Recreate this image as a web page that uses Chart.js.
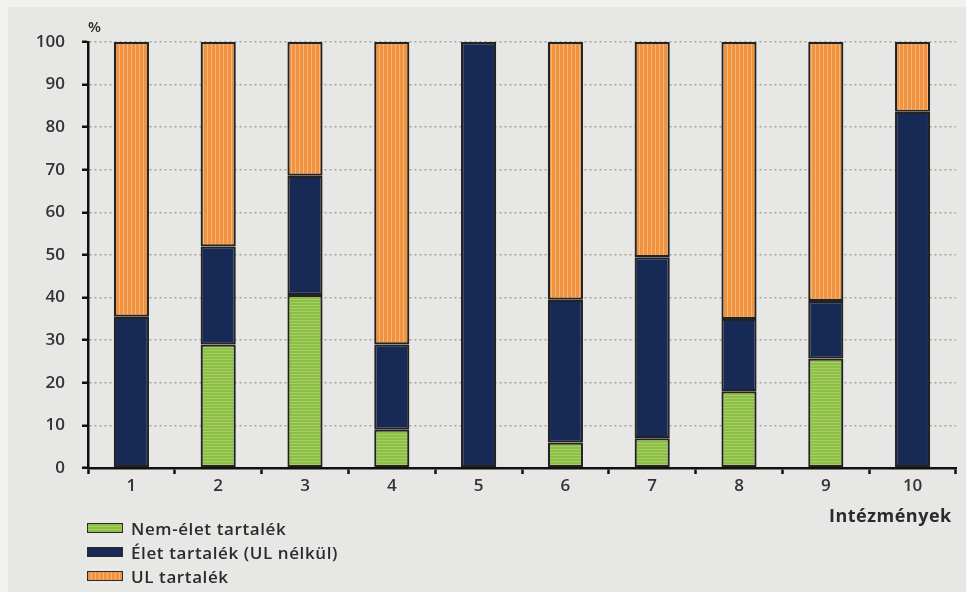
<!DOCTYPE html>
<html>
<head>
<meta charset="utf-8">
<script src="https://cdn.jsdelivr.net/npm/chart.js@4/dist/chart.umd.min.js"></script>
<style>
  html, body { margin: 0; padding: 0; background: #f1f1f0; }
  #wrap { position: relative; width: 966px; height: 592px; overflow: hidden; }
  #panel { position: absolute; left: 8px; top: 7px; right: 0; bottom: 0; background: #e7e7e5; }
  canvas { position: absolute; left: 0; top: 0; }
  .lbl { position: absolute; font-family: "Open Sans", "DejaVu Sans", sans-serif; color: #2b2b2b; white-space: nowrap; }
  #pct { left: 88px; top: 16px; font-size: 15px; font-weight: 600; }
  #xtitle { left: 829px; top: 503px; font-size: 18px; font-weight: bold; letter-spacing: 0.5px; }
  #legend { left: 87px; top: 516px; }
  .row { display: flex; align-items: center; height: 24px; font-size: 17px; font-weight: 600; letter-spacing: 0.6px; }
  .sw { width: 34px; height: 8px; border: 1.5px solid #2a2a2a; margin-right: 8px; }
  .sw.g { background: repeating-linear-gradient(0deg, #8dbf45 0 2px, #a6cf6a 2px 3px); }
  .sw.d { background: #172a55; }
  .sw.o { background: repeating-linear-gradient(90deg, #f0923e 0 3px, #f7b57a 3px 4px); }
</style>
</head>
<body>
<div id="wrap">
  <div id="panel"></div>
  <canvas id="c" width="966" height="592"></canvas>
  <div class="lbl" id="pct">%</div>
  <div class="lbl" id="xtitle">Intézmények</div>
  <div class="lbl" id="legend">
    <div class="row"><div class="sw g"></div>Nem-élet tartalék</div>
    <div class="row"><div class="sw d"></div>Élet tartalék (UL nélkül)</div>
    <div class="row"><div class="sw o"></div>UL tartalék</div>
  </div>
</div>
<script>
// Institutions 1..10
const institutions = ['1', '2', '3', '4', '5', '6', '7', '8', '9', '10'];
// Share of each reserve type, % (stacked to 100)
const nonLifeReserve = [0, 29, 40.6, 9, 0, 6, 7, 18, 25.7, 0];
const lifeReserveExUL = [35.5, 23, 28, 20, 100, 33.5, 42.5, 17, 13.5, 83.6];
const ulReserve = [64.5, 48, 31.4, 71, 0, 60.5, 50.5, 65, 60.8, 16.4];
const seriesNames = ['Nem-élet tartalék', 'Élet tartalék (UL nélkül)', 'UL tartalék'];

// Striped fills
function stripePattern(w, h, base, light, vertical) {
  const c = document.createElement('canvas');
  c.width = w; c.height = h;
  const g = c.getContext('2d');
  g.fillStyle = base; g.fillRect(0, 0, w, h);
  g.fillStyle = light;
  if (vertical) g.fillRect(w - 1, 0, 1, h); else g.fillRect(0, h - 1, w, 1);
  return g.createPattern(c, 'repeat');
}
const ctx = document.getElementById('c').getContext('2d');
const greenFill = stripePattern(3, 3, '#8dbf45', '#a6cf6a', false);
const orangeFill = stripePattern(4, 4, '#f0923e', '#f7b57a', true);
const navyFill = '#172a55';

const tickFont = { family: '"Open Sans", "DejaVu Sans", sans-serif', size: 17, weight: '600' };

new Chart(ctx, {
  type: 'bar',
  data: {
    labels: institutions,
    datasets: [
      { label: seriesNames[0], data: nonLifeReserve, backgroundColor: greenFill },
      { label: seriesNames[1], data: lifeReserveExUL, backgroundColor: navyFill },
      { label: seriesNames[2], data: ulReserve, backgroundColor: orangeFill }
    ].map(d => Object.assign(d, {
      borderColor: '#232323', borderWidth: 2.2, borderSkipped: false,
      categoryPercentage: 1, barPercentage: 0.405
    }))
  },
  options: {
    responsive: false,
    animation: false,
    layout: { padding: { left: 0, top: 42, right: 10, bottom: 94 } },
    plugins: { legend: { display: false }, tooltip: { enabled: false } },
    scales: {
      x: {
        stacked: true,
        afterFit: s => { s.height = 30; },
        grid: { display: true, drawOnChartArea: false, drawTicks: true, tickLength: 6, tickColor: '#111', tickWidth: 2.5, offset: true },
        border: { display: true, color: '#111', width: 2.5 },
        ticks: { color: '#333', font: tickFont, padding: 2, maxRotation: 0 }
      },
      y: {
        stacked: true, min: 0, max: 100,
        afterFit: s => { s.width = 88; },
        grid: { color: '#aaa29c', lineWidth: 1.5, drawTicks: true, tickLength: 6, tickColor: '#111', tickWidth: 2.5, tickBorderDash: [] },
        border: { display: true, color: '#111', width: 2.5, dash: [2, 3] },
        ticks: { stepSize: 10, color: '#333', font: tickFont, padding: 17 }
      }
    }
  }
});
</script>
</body>
</html>
